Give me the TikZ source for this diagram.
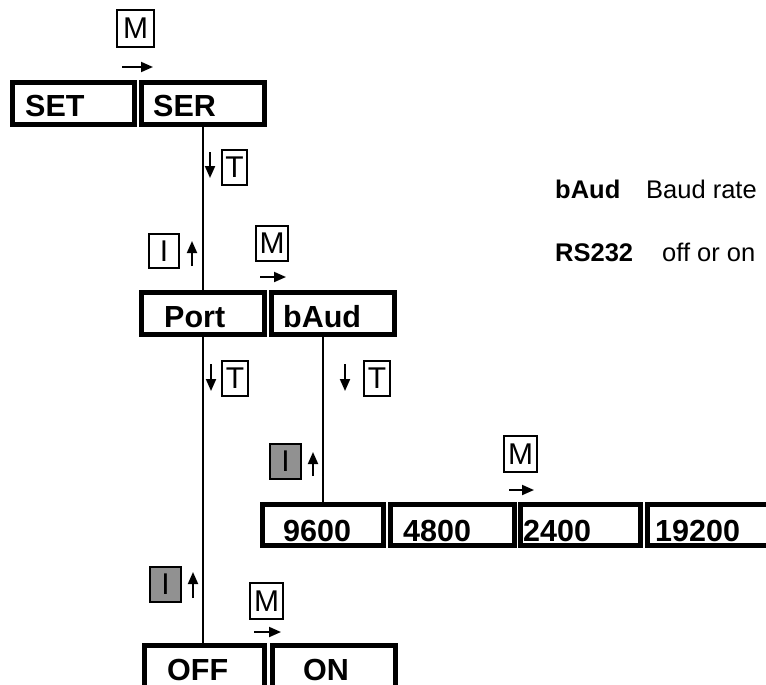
\documentclass[tikz,border=0pt]{standalone}
\usepackage{fontspec}
\setmainfont{Liberation Sans}
\usetikzlibrary{arrows.meta}
\definecolor{igray}{RGB}{145,145,145}
\begin{document}
\begin{tikzpicture}[x=1pt,y=-1pt,
  box/.style={draw, line width=5pt, outer sep=2.5pt, inner sep=0pt, anchor=north west, minimum height=42pt},
  bigtxt/.style={font=\fontsize{30.5}{36}\selectfont\bfseries, inner sep=0pt, anchor=base west},
  key/.style={draw, line width=1.6pt, inner sep=0pt, font=\fontsize{30}{36}\selectfont},
  graykey/.style={key, fill=igray},
  wire/.style={line width=1.8pt},
  sarr/.style={line width=1.9pt, -{Triangle[length=12pt,width=10pt]}},
  side/.style={font=\fontsize{25.5}{30}\selectfont, inner sep=0pt, anchor=base west}]
\useasboundingbox (0,0) rectangle (766,685);
\clip (0,0) rectangle (766,685);

% main boxes
\node[box, minimum width=122pt] (set) at (10,80) {};
\node[box, minimum width=123pt] (ser) at (139,80) {};
\node[box, minimum width=123pt] (port) at (139,290) {};
\node[box, minimum width=123pt] (baud) at (269,290) {};
\node[box, minimum width=121pt, minimum height=41pt] (b9600) at (260,502) {};
\node[box, minimum width=124pt, minimum height=41pt] (b4800) at (388,502) {};
\node[box, minimum width=120pt, minimum height=41pt] (b2400) at (518,502) {};
\node[box, minimum width=123pt, minimum height=41pt] (b19200) at (645,502) {};
\node[box, minimum width=120pt] (off) at (142,643) {};
\node[box, minimum width=123pt] (on) at (270,643) {};

% box texts
\node[bigtxt] (setT) at (25,116) {SET};
\node[bigtxt] (serT) at (153,116) {SER};
\node[bigtxt] (portT) at (164,327) {Port};
\node[bigtxt] (baudT) at (283,327) {bAud};
\node[bigtxt] (t9600) at (283,541) {9600};
\node[bigtxt] (t4800) at (403,541) {4800};
\node[bigtxt] (t2400) at (523,541) {2400};
\node[bigtxt] (t19200) at (655,541) {19200};
\node[bigtxt] (offT) at (167,680) {OFF};
\node[bigtxt] (onT) at (303,680) {ON};

% wires
\draw[wire] (ser.south) -- (port.north);
\draw[wire] (port.south) -- (port.south |- off.north);
\draw[wire] (b9600.north |- baud.south) -- (b9600.north);

% key labels
\node[key, minimum width=37.4pt, minimum height=37.4pt] (m1) at (135.5,28.5) {M};
\node[key, minimum width=32.4pt, minimum height=35.4pt] (m2) at (272,243.5) {M};
\node[key, minimum width=33.4pt, minimum height=36.4pt] (m3) at (520.5,454) {M};
\node[key, minimum width=33.4pt, minimum height=36.4pt] (m4) at (266.5,601) {M};
\node[key, minimum width=25.4pt, minimum height=35.4pt] (t1) at (234.5,167.5) {T};
\node[key, minimum width=26.4pt, minimum height=35.4pt] (t2) at (235,378.5) {T};
\node[key, minimum width=26.4pt, minimum height=35.4pt] (t3) at (377,378.5) {T};
\node[key, minimum width=30.4pt, minimum height=34.4pt] (i1) at (164,251) {I};
\node[graykey, minimum width=31.4pt, minimum height=35.4pt] (i2) at (285.5,461.5) {I};
\node[graykey, minimum width=31.4pt, minimum height=35.4pt] (i3) at (165.5,584.5) {I};

% arrows
\coordinate (m1s) at (122,67); \coordinate (m1e) at (153,67);
\coordinate (m2s) at (260,277); \coordinate (m2e) at (286,277);
\coordinate (m3s) at (509,490); \coordinate (m3e) at (534,490);
\coordinate (m4s) at (254,632); \coordinate (m4e) at (281,632);
\draw[sarr] (m1s) -- (m1e);
\draw[sarr] (m2s) -- (m2e);
\draw[sarr] (m3s) -- (m3e);
\draw[sarr] (m4s) -- (m4e);

\coordinate (t1s) at (210,152); \coordinate (t1e) at (210,178);
\coordinate (t2s) at (211,364); \coordinate (t2e) at (211,391);
\coordinate (t3s) at (345,364); \coordinate (t3e) at (345,391);
\draw[sarr] (t1s) -- (t1e);
\draw[sarr] (t2s) -- (t2e);
\draw[sarr] (t3s) -- (t3e);

\coordinate (i1s) at (192,266); \coordinate (i1e) at (192,241);
\coordinate (i2s) at (313,476); \coordinate (i2e) at (313,452);
\coordinate (i3s) at (193,598); \coordinate (i3e) at (193,572);
\draw[sarr] (i1s) -- (i1e);
\draw[sarr] (i2s) -- (i2e);
\draw[sarr] (i3s) -- (i3e);

% side legend
\node[side, font=\fontsize{25.5}{30}\selectfont\bfseries] (lb) at (555,198) {bAud};
\node[side] (lbd) at (646,198) {Baud rate};
\node[side, font=\fontsize{25.5}{30}\selectfont\bfseries] (lr) at (555,261) {RS232};
\node[side] (lrd) at (662,261) {off or on};
\end{tikzpicture}
\end{document}
